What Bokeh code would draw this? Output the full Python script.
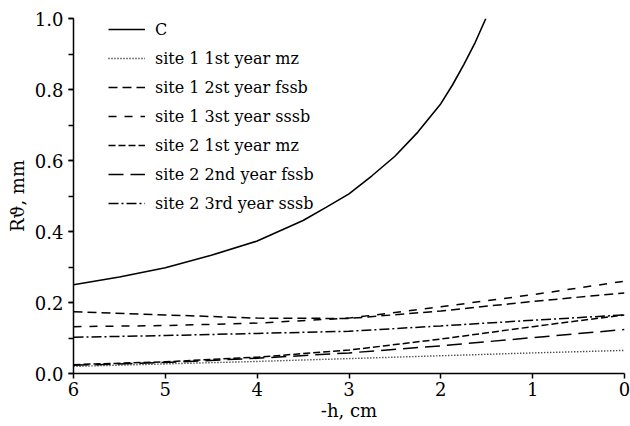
from bokeh.plotting import figure
from bokeh.models import (Range1d, SingleIntervalTicker, FixedTicker, Legend, LegendItem,
                          PrintfTickFormatter)
from bokeh.embed import file_html
from bokeh.resources import INLINE

FONT = "DejaVu Serif"

# data
h_c = [6, 5.5, 5, 4.5, 4, 3.5, 3.25, 3.0, 2.75, 2.5, 2.25, 2.0, 1.875, 1.75, 1.625, 1.51]
r_c = [0.250, 0.272, 0.298, 0.333, 0.373, 0.431, 0.468, 0.506, 0.557, 0.612, 0.680, 0.760,
       0.812, 0.870, 0.933, 1.0]

h = [6, 5, 4, 3, 2, 1, 0]
s1_y1_mz = [0.020, 0.027, 0.034, 0.042, 0.050, 0.058, 0.065]
s1_y2_fssb = [0.174, 0.165, 0.156, 0.155, 0.176, 0.203, 0.227]
s1_y3_sssb = [0.132, 0.135, 0.142, 0.156, 0.188, 0.222, 0.260]
s2_y1_mz = [0.025, 0.033, 0.046, 0.066, 0.097, 0.132, 0.165]
s2_y2_fssb = [0.023, 0.031, 0.043, 0.058, 0.078, 0.101, 0.124]
s2_y3_sssb = [0.102, 0.107, 0.113, 0.119, 0.134, 0.150, 0.165]

labels = ["C", "site 1 1st year mz", "site 1 2st year fssb", "site 1 3st year sssb",
          "site 2 1st year mz", "site 2 2nd year fssb", "site 2 3rd year sssb"]
x_ticks = [0, 1, 2, 3, 4, 5, 6]
x_title = "-h, cm"
y_title = "Rϑ, mm"

p = figure(width=630, height=426, output_backend="svg", toolbar_location=None,
           x_range=Range1d(6, 0), y_range=Range1d(0, 1.0),
           min_border_left=73, min_border_right=6, min_border_top=18, min_border_bottom=53)
p.outline_line_color = None
p.xgrid.visible = False
p.ygrid.visible = False
p.background_fill_color = "white"
p.border_fill_color = "white"

r0 = p.line(h_c, r_c, line_color="black", line_width=1.6)
r1 = p.line(h, s1_y1_mz, line_color="black", line_width=1.4, line_dash="1 2")
r2 = p.line(h, s1_y2_fssb, line_color="black", line_width=1.5, line_dash="9 5")
r3 = p.line(h, s1_y3_sssb, line_color="black", line_width=1.5, line_dash="8 8")
r4 = p.line(h, s2_y1_mz, line_color="black", line_width=1.5, line_dash="7 3")
r5 = p.line(h, s2_y2_fssb, line_color="black", line_width=1.5, line_dash="15 7")
r6 = p.line(h, s2_y3_sssb, line_color="black", line_width=1.5, line_dash="10 3 2 3")

legend = Legend(items=[LegendItem(label=l, renderers=[r]) for l, r in
                       zip(labels, [r0, r1, r2, r3, r4, r5, r6])],
                location=(35, 160))
legend.border_line_color = None
legend.background_fill_alpha = 0
legend.padding = 0
legend.margin = 0
legend.spacing = 9
legend.label_height = 20
legend.glyph_height = 20
legend.glyph_width = 37
legend.label_standoff = 10
legend.label_text_font = FONT
legend.label_text_font_size = "16px"
legend.label_text_color = "black"
p.add_layout(legend, "center")

for ax in (p.xaxis[0], p.yaxis[0]):
    ax.axis_line_width = 1.5
    ax.axis_line_color = "black"
    ax.major_tick_line_width = 1.5
    ax.minor_tick_line_width = 1.5
    ax.major_tick_in = 0
    ax.major_tick_out = 5
    ax.minor_tick_in = 0
    ax.minor_tick_out = 5
    ax.major_label_text_font = FONT
    ax.major_label_text_font_size = "18px"
    ax.major_label_text_color = "black"
    ax.axis_label_text_font = FONT
    ax.axis_label_text_font_size = "18px"
    ax.axis_label_text_font_style = "normal"
    ax.axis_label_text_color = "black"

p.xaxis[0].ticker = FixedTicker(ticks=x_ticks)
p.xaxis[0].major_label_standoff = 3
p.xaxis[0].axis_label = x_title
p.xaxis[0].axis_label_standoff = 1

p.yaxis[0].ticker = SingleIntervalTicker(interval=0.2, num_minor_ticks=2)
p.yaxis[0].major_label_standoff = 5
p.yaxis[0].formatter = PrintfTickFormatter(format="%.1f")
p.yaxis[0].axis_label = y_title
p.yaxis[0].axis_label_standoff = 4

open("out.html", "w").write(file_html(p, INLINE))
